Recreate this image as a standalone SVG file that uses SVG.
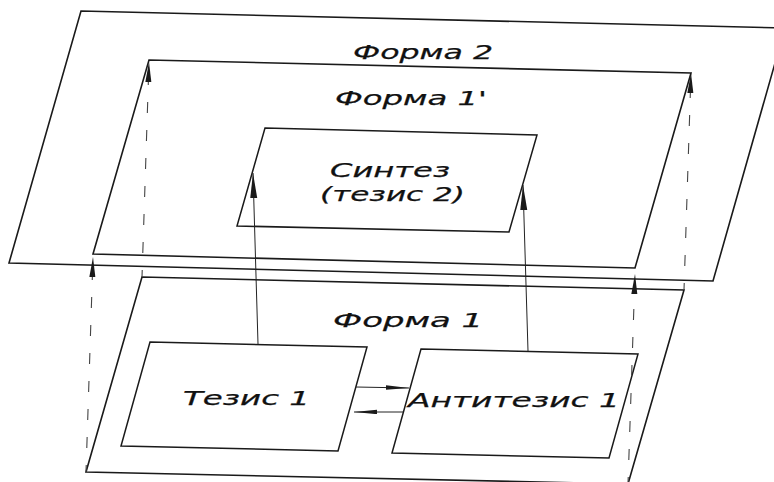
<svg xmlns="http://www.w3.org/2000/svg" width="774" height="482" viewBox="0 0 774 482">
  <style>
    .plane { fill: none; stroke: #1a1a1a; stroke-width: 1.6; stroke-linejoin: miter; }
    .box { fill: none; stroke: #1a1a1a; stroke-width: 1.5; }
    .label { font-family: "DejaVu Sans", "Liberation Sans", sans-serif; font-style: italic; font-size: 20px; fill: #111; stroke: #111; stroke-width: 0.25; }
    .link { fill: none; stroke: #222; stroke-width: 1; }
    .proj { fill: none; stroke: #444; stroke-width: 1.1; stroke-dasharray: 11 17; stroke-dashoffset: 4; }
  </style>
  <defs>
    <marker id="head-proj" markerUnits="userSpaceOnUse" markerWidth="22" markerHeight="8" refX="20" refY="3" orient="auto">
      <path d="M0,0 L20,3 L0,6 z" fill="#1a1a1a"/>
    </marker>
    <marker id="head-up" markerUnits="userSpaceOnUse" markerWidth="27" markerHeight="8" refX="25" refY="3.5" orient="auto">
      <path d="M0,0 L25,3.5 L0,7 z" fill="#1a1a1a"/>
    </marker>
    <marker id="head-side" markerUnits="userSpaceOnUse" markerWidth="24" markerHeight="6" refX="23" refY="2.2" orient="auto">
      <path d="M0,0 L23,2.2 L0,4.4 z" fill="#1a1a1a"/>
    </marker>
  </defs>

  <rect width="774" height="482" fill="#ffffff"/>

  <!-- upper plane -->
  <g id="form2">
    <polygon class="plane" points="81,11 785,28 713,281 9,263"/>
    <text class="label" x="353" y="59" textLength="140" lengthAdjust="spacingAndGlyphs">Форма 2</text>
  </g>

  <!-- transformed form inside the upper plane -->
  <g id="form1prime">
    <polygon class="plane" points="149,60 691,73 635,268 93,254"/>
    <text class="label" x="335" y="105" textLength="152" lengthAdjust="spacingAndGlyphs">Форма 1'</text>
  </g>

  <g id="synthesis">
    <polygon class="box" points="265,128 537,135 509,232 237,226"/>
    <text class="label" x="330" y="177" textLength="120" lengthAdjust="spacingAndGlyphs">Синтез</text>
    <text class="label" x="320" y="201" textLength="145" lengthAdjust="spacingAndGlyphs">(тезис 2)</text>
  </g>

  <!-- lower plane -->
  <g id="form1">
    <polygon class="plane" points="142,277 684,290 628,484 86,472"/>
    <text class="label" x="333" y="327" textLength="150" lengthAdjust="spacingAndGlyphs">Форма 1</text>
  </g>

  <g id="thesis1">
    <polygon class="box" points="150,342 367,347 338,451 121,446"/>
    <text class="label" x="183" y="405" textLength="127" lengthAdjust="spacingAndGlyphs">Тезис 1</text>
  </g>

  <g id="antithesis1">
    <polygon class="box" points="421,349 638,354 609,458 392,453"/>
    <text class="label" x="408" y="407" textLength="212" lengthAdjust="spacingAndGlyphs">Антитезис 1</text>
  </g>

  <g id="connectors">
    <!-- projections of the lower plane's corners -->
    <line class="proj" x1="86" y1="472" x2="93" y2="257" marker-end="url(#head-proj)"/>
    <line class="proj" x1="142" y1="277" x2="149" y2="62" marker-end="url(#head-proj)"/>
    <line class="proj" x1="628" y1="484" x2="635" y2="274" marker-end="url(#head-proj)"/>
    <line class="proj" x1="684" y1="290" x2="691" y2="73" marker-end="url(#head-proj)"/>
    <!-- thesis and antithesis rise into the synthesis -->
    <line class="link" x1="258" y1="344" x2="253" y2="173" marker-end="url(#head-up)"/>
    <line class="link" x1="528" y1="351" x2="523" y2="185" marker-end="url(#head-up)"/>
    <!-- exchange between thesis and antithesis -->
    <line class="link" x1="356" y1="387" x2="409" y2="388" marker-end="url(#head-side)"/>
    <line class="link" x1="403" y1="412" x2="354" y2="412" marker-end="url(#head-side)"/>
  </g>
</svg>
